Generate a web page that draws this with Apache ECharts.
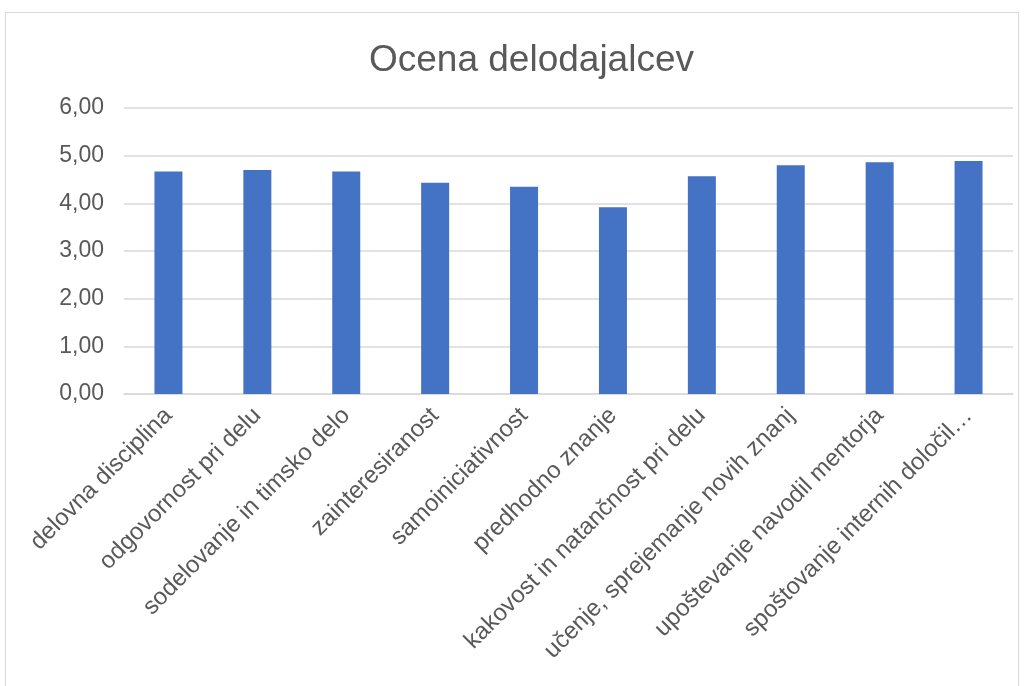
<!DOCTYPE html>
<html>
<head>
<meta charset="utf-8">
<script src="https://cdn.jsdelivr.net/npm/echarts@6/dist/echarts.min.js"></script>
<style>
html,body{margin:0;padding:0;background:#fff;}
#frame{position:absolute;left:5px;top:12px;width:1014px;height:700px;border:1px solid #d9d9d9;box-sizing:border-box;}
#chart{position:absolute;left:0;top:0;width:1031px;height:686px;}
</style>
</head>
<body>
<div id="frame"></div>
<div id="chart"></div>
<script>
const title = 'Ocena delodajalcev';
const categories = ['delovna disciplina','odgovornost pri delu','sodelovanje in timsko delo','zainteresiranost','samoiniciativnost','predhodno znanje','kakovost in natančnost pri delu','učenje, sprejemanje novih znanj','upoštevanje navodil mentorja','spoštovanje internih določil…'];
const values = [4.67, 4.70, 4.67, 4.43, 4.35, 3.92, 4.57, 4.80, 4.86, 4.89];
const yTicks = {min: 0, max: 6, interval: 1};

const chart = echarts.init(document.getElementById('chart'));
chart.setOption({
  animation: false,
  title: {
    text: title, left: 364, top: 37,
    textStyle: {fontFamily: 'Liberation Sans', fontSize: 37, fontWeight: 'normal', color: '#595959'}
  },
  grid: {left: 124, right: 18, top: 108, bottom: 292, containLabel: false},
  xAxis: {
    type: 'category', data: categories,
    axisLine: {lineStyle: {color: '#d9d9d9', width: 1.5}},
    axisTick: {show: false},
    axisLabel: {rotate: 45, interval: 0, margin: 18, fontFamily: 'Liberation Sans', fontSize: 24, color: '#595959'}
  },
  yAxis: {
    type: 'value', min: yTicks.min, max: yTicks.max, interval: yTicks.interval,
    axisLine: {show: false}, axisTick: {show: false},
    splitLine: {lineStyle: {color: '#d9d9d9', width: 1.5}},
    axisLabel: {margin: 20, fontFamily: 'Liberation Sans', fontSize: 23, color: '#595959',
      formatter: v => v.toFixed(2).replace('.', ',')}
  },
  series: [{
    type: 'bar', data: values, barWidth: 28,
    itemStyle: {color: '#4472c4'}
  }]
});
</script>
</body>
</html>
